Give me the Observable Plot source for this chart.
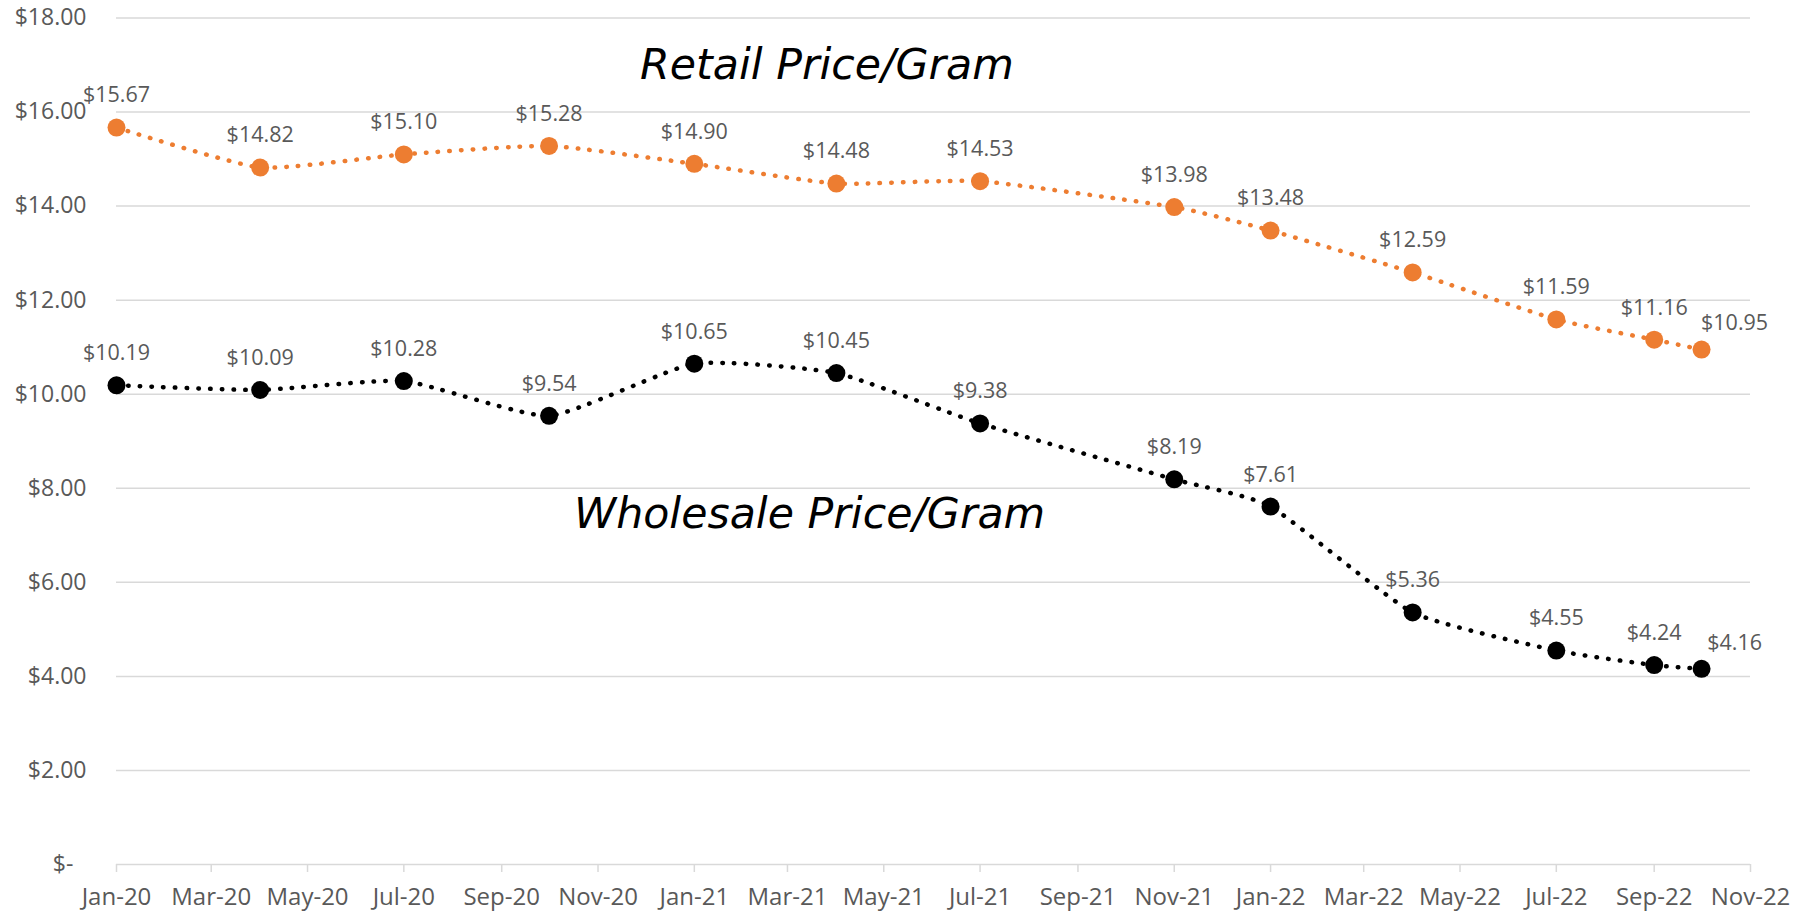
<!DOCTYPE html>
<html>
<head>
<meta charset="utf-8">
<script src="https://cdn.jsdelivr.net/npm/d3@7"></script>
<script src="https://cdn.jsdelivr.net/npm/@observablehq/plot@0.6"></script>
<style>
  html, body { margin: 0; padding: 0; background: #fff; }
  #chart svg { display: block; }
</style>
</head>
<body>
<div id="chart"></div>
<script>
// ---- Data ----
const months = ["2020-01", "2020-04", "2020-07", "2020-10", "2021-01", "2021-04", "2021-07",
                "2021-11", "2022-01", "2022-04", "2022-07", "2022-09", "2022-10"];
const retail = [15.67, 14.82, 15.10, 15.28, 14.90, 14.48, 14.53, 13.98, 13.48, 12.59, 11.59, 11.16, 10.95];
const wholesale = [10.19, 10.09, 10.28, 9.54, 10.65, 10.45, 9.38, 8.19, 7.61, 5.36, 4.55, 4.24, 4.16];
const seriesNames = ["Retail Price/Gram", "Wholesale Price/Gram"];
const seriesColors = ["#ED7D31", "#000000"];
const titleDates = ["2021-03-26", "2021-03-15"];
const titleValues = [17.0, 7.44];
const yTicks = [0, 2, 4, 6, 8, 10, 12, 14, 16, 18];

// ---- Build table ----
const parse = s => new Date(s.length === 7 ? s + "-01T00:00:00Z" : s + "T00:00:00Z");
const data = [];
[retail, wholesale].forEach((vals, si) => {
  vals.forEach((v, i) => data.push({series: seriesNames[si], date: parse(months[i]), value: v, last: i === vals.length - 1}));
});
const titles = seriesNames.map((n, i) => ({series: n, date: parse(titleDates[i]), value: titleValues[i]}));

const fmt = v => "$" + v.toFixed(2);
const yFmt = v => v === 0 ? "$-\u2007" : "$" + v.toFixed(2);
const xTicks = d3.utcMonth.every(2).range(parse("2020-01"), new Date(Date.UTC(2022, 10, 2)));

const labelFont = "'Open Sans', 'Noto Sans', sans-serif";

const plot = Plot.plot({
  width: 1804,
  height: 912,
  marginLeft: 116,
  marginRight: 54,
  marginTop: 17.5,
  marginBottom: 48,
  style: {fontFamily: labelFont, background: "#fff", overflow: "visible"},
  x: {type: "utc", domain: [parse("2020-01"), parse("2022-11")]},
  y: {domain: [0, 18]},
  color: {domain: seriesNames, range: seriesColors},
  marks: [
    Plot.gridY(yTicks.filter(d => d > 0), {stroke: "#d9d9d9", strokeOpacity: 1, strokeWidth: 1.5}),
    Plot.ruleY([0], {stroke: "#d9d9d9", strokeWidth: 1.5}),
    Plot.axisY({ticks: yTicks, tickFormat: yFmt, tickSize: 0, tickPadding: 30, fontSize: 23, color: "#595959", label: null}),
    Plot.axisX({ticks: xTicks, tickFormat: d3.utcFormat("%b-%y"), tickSize: 8, tickPadding: 15, fontSize: 24,
      stroke: "#d9d9d9", strokeOpacity: 1, strokeWidth: 1.5, color: "#595959", fill: "#595959", label: null}),
    Plot.line(data, {x: "date", y: "value", z: "series", stroke: "series", curve: "cardinal", tension: 0.5,
      strokeWidth: 4.5, strokeDasharray: "0.5 11.2", strokeLinecap: "round"}),
    Plot.dot(data, {x: "date", y: "value", fill: "series", r: 9, stroke: null}),
    Plot.text(data.filter(d => !d.last), {x: "date", y: "value", text: d => fmt(d.value), dy: -32,
      fontSize: 21.5, fill: "#595959"}),
    Plot.text(data.filter(d => d.last), {x: "date", y: "value", text: d => fmt(d.value), dx: 33, dy: -26,
      fontSize: 21.5, fill: "#595959"}),
    Plot.text(titles, {x: "date", y: "value", text: "series", fontSize: 42.7, fontStyle: "italic",
      fontFamily: "'DejaVu Sans', sans-serif", fill: "#000"})
  ]
});
document.getElementById("chart").appendChild(plot);
</script>
</body>
</html>
